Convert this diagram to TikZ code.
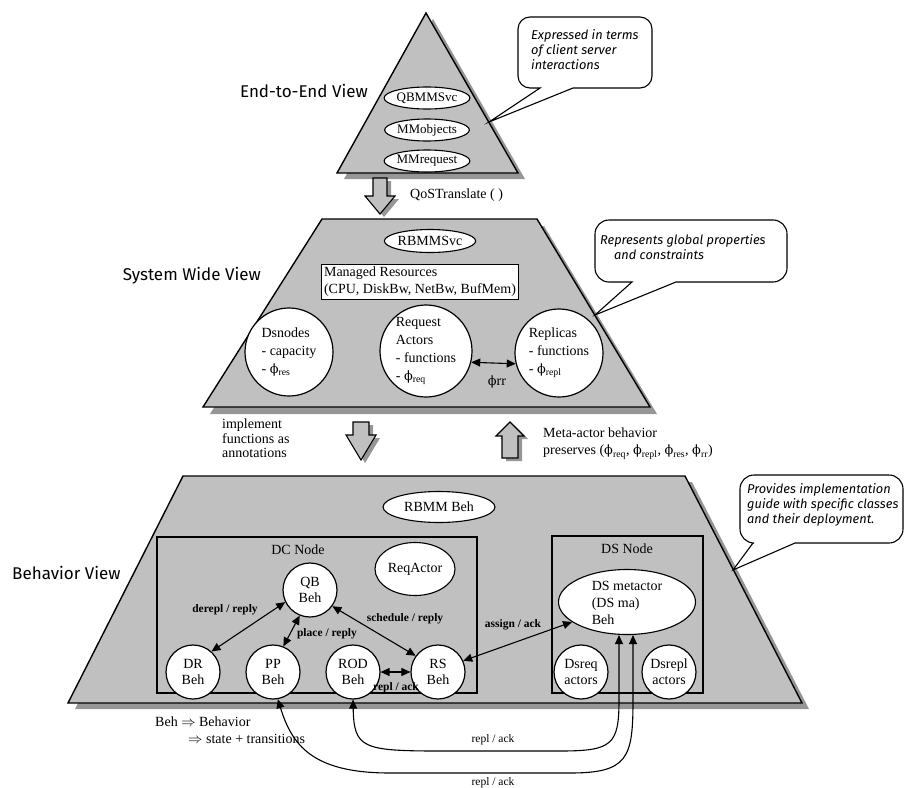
\documentclass[tikz,border=0pt]{standalone}
\usepackage{fontspec}
\setmainfont{Liberation Serif}
\newfontfamily\handfont{Fira Sans}
\newfontfamily\phifont{DejaVu Serif}
\newcommand{\gphi}{{\phifont\fontsize{0.92em}{1em}\selectfont ϕ}}
\usetikzlibrary{arrows.meta,shapes.geometric,calc}
\definecolor{layergray}{RGB}{192,192,192}
\definecolor{shadowgray}{RGB}{150,150,150}

\begin{document}
\begin{tikzpicture}[x=1pt,y=-1pt,
  font=\fontsize{14}{17}\selectfont,
  layer/.style={fill=layergray,draw=black,line width=1.4pt,line join=miter},
  dropshade/.style={fill=shadowgray,draw=none},
  blockarrow/.style={fill=layergray,draw=black,line width=1.1pt,line join=miter},
  bubble/.style={fill=white,draw=black,line width=1.1pt,line join=miter},
  bubbletext/.style={font=\handfont\itshape\fontsize{12.8}{15}\selectfont,align=left,inner sep=0pt},
  viewtitle/.style={font=\handfont\fontsize{17}{20}\selectfont,inner sep=0pt},
  oval/.style={ellipse,draw,fill=white,line width=1.1pt,inner sep=0pt},
  bigcirc/.style={circle,draw,fill=white,line width=1.2pt,inner sep=0pt,minimum size=88pt,align=left,font=\fontsize{14}{18}\selectfont},
  behcirc/.style={circle,draw,fill=white,line width=1.2pt,inner sep=0pt,minimum size=54pt,align=center,font=\fontsize{14}{16}\selectfont},
  framebox/.style={draw,line width=1.1pt},
  link/.style={{Triangle[length=9pt,width=8pt]}-{Triangle[length=9pt,width=8pt]},line width=1.1pt},
  linklabel/.style={font=\bfseries\fontsize{11.5}{13}\selectfont,inner sep=0pt},
  plainlabel/.style={font=\fontsize{11.5}{13}\selectfont,inner sep=0pt},
  textlabel/.style={align=left,inner sep=0pt},
]
\useasboundingbox (0,0) rectangle (907,787);

% ---------- End-to-End view (triangle) ----------
\fill[dropshade,shift={(7,6)}] (426,13) -- (518,173) -- (337,173) -- cycle;
\draw[layer] (426,13) -- (518,173) -- (337,173) -- cycle;
\node[oval,minimum width=84pt,minimum height=22pt,font=\fontsize{13}{15}\selectfont] (qbmm) at (427,98) {QBMMSvc};
\node[oval,minimum width=84pt,minimum height=22pt,font=\fontsize{13}{15}\selectfont] (mmobj) at (427,130) {MMobjects};
\node[oval,minimum width=84pt,minimum height=22pt,font=\fontsize{13}{15}\selectfont] (mmreq) at (427,161) {MMrequest};
\node[viewtitle,anchor=east] (e2e) at (368,91) {End-to-End View};

% callout for the end-to-end view
\draw[bubble] (540,88) -- (489,122) -- (573,88) [rounded corners=12pt] -- (652,88) -- (652,17) -- (518,17) -- (518,88) [sharp corners] -- cycle;
\node[bubbletext,anchor=north west] (note1) at (531,29) {Expressed in terms\\of client server\\interactions};

% QoS translation arrow
\fill[dropshade,shift={(4,3)}] (373,178) -- (387,178) -- (387,196) -- (395,196) -- (380,214) -- (365,196) -- (373,196) -- cycle;
\draw[blockarrow] (373,178) -- (387,178) -- (387,196) -- (395,196) -- (380,214) -- (365,196) -- (373,196) -- cycle;
\node[textlabel,anchor=west] (qos) at (410,195) {QoSTranslate ( )};

% ---------- System wide view (trapezoid) ----------
\fill[dropshade,shift={(7,7)}] (322,219) -- (537,219) -- (650,407) -- (203,407) -- cycle;
\draw[layer] (322,219) -- (537,219) -- (650,407) -- (203,407) -- cycle;
\node[viewtitle,anchor=east] (swv) at (261,276) {System Wide View};
\node[oval,minimum width=88pt,minimum height=23pt] (rbmmsvc) at (430,241) {RBMMSvc};
\node[framebox,fill=white,align=left,inner sep=3pt] (mres) at (420,282) {Managed Resources\\(CPU, DiskBw, NetBw, BufMem)};
\node[bigcirc] (dsnodes) at (289,352) {Dsnodes\\- capacity\\- \gphi\textsubscript{res}};
\node[bigcirc,minimum size=92pt] (ract) at (426,351) {Request\\Actors\\- functions\\- \gphi\textsubscript{req}};
\node[bigcirc] (repl) at (559,353) {Replicas\\- functions\\- \gphi\textsubscript{repl}};
\draw[link] (ract.-14) -- (repl.194);
\node[textlabel] (phirr) at (497,382) {\gphi rr};

% callout for the system wide view
\draw[bubble] (632,282) -- (595,315) -- (676,282) [rounded corners=14pt] -- (787,282) -- (787,220) -- (595,220) -- (595,282) [sharp corners] -- cycle;
\node[bubbletext,anchor=north west] (note2) at (600,234) {Represents global properties\\\hspace*{14pt}and constraints};

% refinement arrows between the views
\fill[dropshade,shift={(4,3)}] (353,422) -- (369,422) -- (369,435) -- (376,435) -- (361,460) -- (346,435) -- (353,435) -- cycle;
\draw[blockarrow] (353,422) -- (369,422) -- (369,435) -- (376,435) -- (361,460) -- (346,435) -- (353,435) -- cycle;
\fill[dropshade,shift={(4,3)}] (510,422) -- (524,436) -- (518,436) -- (518,458) -- (502,458) -- (502,436) -- (496,436) -- cycle;
\draw[blockarrow] (510,422) -- (524,436) -- (518,436) -- (518,458) -- (502,458) -- (502,436) -- (496,436) -- cycle;
\node[textlabel,anchor=north west,font=\fontsize{14}{14.5}\selectfont] (impl) at (222,419) {implement\\functions as\\annotations};
\node[textlabel,anchor=north west] (meta) at (543,428) {Meta-actor behavior\\preserves (\gphi\textsubscript{req}, \gphi\textsubscript{repl}, \gphi\textsubscript{res}, \gphi\textsubscript{rr})};

% ---------- Behavior view (trapezoid) ----------
\fill[dropshade,shift={(7,6)}] (183,476) -- (685,476) -- (802,703) -- (68,703) -- cycle;
\draw[layer] (183,476) -- (685,476) -- (802,703) -- (68,703) -- cycle;
\node[viewtitle,anchor=west] (bv) at (12,573) {Behavior View};
\node[oval,minimum width=112pt,minimum height=31pt] (rbmmbeh) at (439,507) {RBMM Beh};

% DC node
\draw[framebox] (157,537) rectangle (477,693);
\node[inner sep=0pt] (dclabel) at (298,550) {DC Node};
\node[oval,minimum width=80pt,minimum height=53pt] (reqactor) at (415,569) {ReqActor};
\node[behcirc] (qb) at (310,590) {QB\\Beh};
\node[behcirc] (dr) at (193,672) {DR\\Beh};
\node[behcirc] (pp) at (273,672) {PP\\Beh};
\node[behcirc] (rod) at (353,672) {ROD\\Beh};
\node[behcirc] (rs) at (438,672) {RS\\Beh};

% DS node
\draw[framebox] (552,536) rectangle (703,693);
\node[inner sep=0pt] (dslabel) at (627,549) {DS Node};
\node[oval,minimum width=137pt,minimum height=65pt] (dsm) at (627,602) {};
\node[textlabel] (dsmtext) at (627,603) {DS metactor\\(DS ma)\\Beh};
\node[behcirc] (dsreq) at (581,672) {Dsreq\\actors};
\node[behcirc] (dsrepl) at (669,672) {Dsrepl\\actors};

% interactions inside the behavior view
\draw[link] (qb.-154) -- (dr.48);
\draw[link] (qb.-112) -- (pp.68);
\draw[link] (qb.-36) -- (rs.144);
\draw[link] (rod.east) -- (rs.west);
\draw[link] (rs.24) -- (dsm.200);
\node[linklabel] (l1) at (225,610) {derepl / reply};
\node[linklabel] (l2) at (327,634) {place / reply};
\node[linklabel] (l3) at (405,619) {schedule / reply};
\node[linklabel] (l4) at (396,688) {repl / ack};
\node[linklabel] (l5) at (513,625) {assign / ack};

% replication traffic to the DS metactor
\coordinate (dsmA) at ($(dsm.south)+(-8,0)$);
\coordinate (dsmB) at ($(dsm.south)+(6,0)$);
\draw[link] (rod.south) .. controls (354,748) and (362,751) .. (440,751) -- (560,751) .. controls (612,751) and (619,745) .. (619,700) -- (dsmA);
\draw[link] (pp.-80) .. controls (292,745) and (312,773) .. (390,773) -- (570,773) .. controls (628,773) and (633,758) .. (633,700) -- (dsmB);
\node[plainlabel] (l6) at (493,740) {repl / ack};
\node[plainlabel] (l7) at (493,783) {repl / ack};

% callout for the behavior view
\draw[bubble] (753,543) -- (733,570) -- (795,543) [rounded corners=14pt] -- (903,543) -- (903,475) -- (740,475) -- (740,543) [sharp corners] -- cycle;
\node[bubbletext,anchor=north west] (note3) at (747,483) {Provides implementation\\guide with specific classes\\and their deployment.};

% legend
\node[textlabel,anchor=north west] (legend) at (155,717) {Beh \(\Rightarrow\) Behavior\\\hspace*{33pt}\(\Rightarrow\) state + transitions};
\end{tikzpicture}
\end{document}
